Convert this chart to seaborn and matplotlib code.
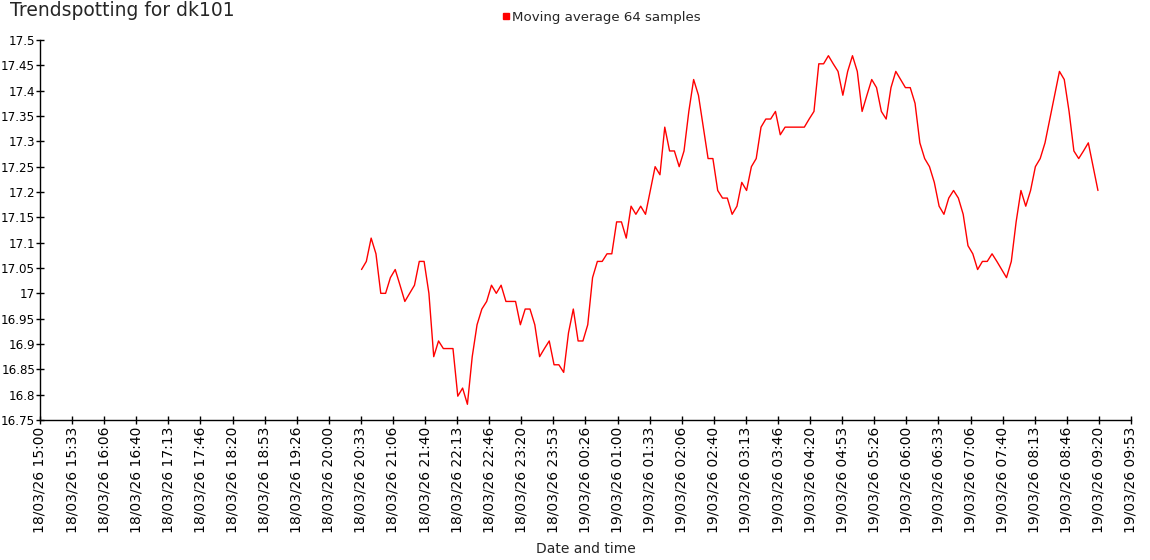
import numpy as np
import pandas as pd
import matplotlib
matplotlib.use("Agg")
import matplotlib.pyplot as plt
import matplotlib.dates as mdates
from matplotlib.lines import Line2D
import seaborn as sns

# Data: moving average values (5-minute samples starting 18/03/26 20:34)
start_time = "2026-03-18 20:34"
step_minutes = 5
values = [
    17.047, 17.063, 17.109, 17.078, 17.000, 17.000, 17.031, 17.047, 17.016, 16.984,
    17.000, 17.016, 17.063, 17.063, 17.000, 16.875, 16.906, 16.891, 16.891, 16.891,
    16.797, 16.813, 16.781, 16.875, 16.938, 16.969, 16.984, 17.016, 17.000, 17.016,
    16.984, 16.984, 16.984, 16.938, 16.969, 16.969, 16.938, 16.875, 16.891, 16.906,
    16.859, 16.859, 16.844, 16.922, 16.969, 16.906, 16.906, 16.938, 17.031, 17.063,
    17.063, 17.078, 17.078, 17.141, 17.141, 17.109, 17.172, 17.156, 17.172, 17.156,
    17.203, 17.250, 17.234, 17.328, 17.281, 17.281, 17.250, 17.281, 17.359, 17.422,
    17.391, 17.328, 17.266, 17.266, 17.203, 17.188, 17.188, 17.156, 17.172, 17.219,
    17.203, 17.250, 17.266, 17.328, 17.344, 17.344, 17.359, 17.313, 17.328, 17.328,
    17.328, 17.328, 17.328, 17.344, 17.359, 17.453, 17.453, 17.469, 17.453, 17.438,
    17.391, 17.438, 17.469, 17.438, 17.359, 17.391, 17.422, 17.406, 17.359, 17.344,
    17.406, 17.438, 17.422, 17.406, 17.406, 17.375, 17.297, 17.266, 17.250, 17.219,
    17.172, 17.156, 17.188, 17.203, 17.188, 17.156, 17.094, 17.078, 17.047, 17.063,
    17.063, 17.078, 17.063, 17.047, 17.031, 17.063, 17.141, 17.203, 17.172, 17.203,
    17.250, 17.266, 17.297, 17.344, 17.391, 17.438, 17.422, 17.359, 17.281, 17.266,
    17.281, 17.297, 17.250, 17.203,
]
series_label = "Moving average 64 samples"
title_text = "Trendspotting for dk101"
x_label = "Date and time"
y_ticks = [16.75, 16.8, 16.85, 16.9, 16.95, 17.0, 17.05, 17.1, 17.15, 17.2,
           17.25, 17.3, 17.35, 17.4, 17.45, 17.5]
x_start = "2026-03-18 15:00:00"
x_tick_seconds = 2000
x_tick_count = 35

times = pd.date_range(start_time, periods=len(values), freq=f"{step_minutes}min")
df = pd.DataFrame({"time": times, "value": values})

sns.set_style("ticks")
plt.rcParams["font.family"] = ["DejaVu Sans"]

fig = plt.figure(figsize=(11.5, 5.6), dpi=100)
ax = fig.add_axes([40 / 1150, 140 / 560, 1091 / 1150, 380 / 560])

sns.lineplot(data=df, x="time", y="value", ax=ax, color="#ff0000", linewidth=1.0)

xticks = pd.date_range(x_start, periods=x_tick_count, freq=f"{x_tick_seconds}s")
ax.set_xticks(xticks)
ax.xaxis.set_major_formatter(mdates.DateFormatter("%d/%m/%y %H:%M"))
ax.set_xlim(xticks[0], xticks[-1])
ax.set_ylim(16.75, 17.5)
ax.set_yticks(y_ticks)
ax.set_yticklabels([f"{v:g}" for v in y_ticks])

for s in ["top", "right"]:
    ax.spines[s].set_visible(False)
for s in ["left", "bottom"]:
    ax.spines[s].set_color("black")
    ax.spines[s].set_linewidth(1.0)

ax.tick_params(axis="x", direction="inout", length=6, width=1, labelsize=10,
               labelrotation=90, pad=2, colors="black")
ax.tick_params(axis="y", direction="inout", length=6, width=1, labelsize=8.6,
               pad=0.5, colors="black")
ax.set_xlabel(x_label, fontsize=10, labelpad=6)
ax.set_ylabel("")

handle = Line2D([], [], marker="s", linestyle="none", color="#ff0000", markersize=5)
fig.legend([handle], [series_label], loc="center", bbox_to_anchor=(600 / 1150, 1 - 17 / 560),
           frameon=False, fontsize=9.6, handletextpad=0.0, handlelength=1.0)

fig.text(10 / 1150, 1 - 10 / 560, title_text, fontsize=13.5, ha="left", va="center")

fig.savefig("out.png", dpi=100)
